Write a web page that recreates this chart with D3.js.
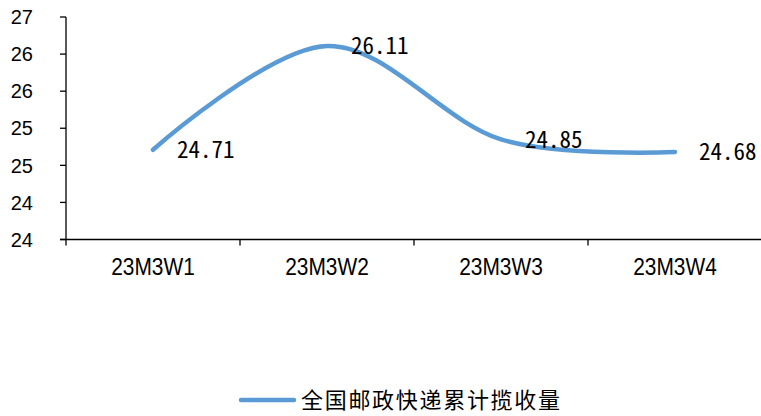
<!DOCTYPE html>
<html lang="zh">
<head>
<meta charset="UTF-8">
<title>全国邮政快递累计揽收量</title>
<script src="https://cdn.jsdelivr.net/npm/d3@7/dist/d3.min.js"></script>
<style>
	body { margin: 0; background: #fff; }
	.ytick text { font-family: "Liberation Sans", Arial, sans-serif; font-size: 20px; fill: #000; }
	.xtick text { font-family: "Liberation Sans Narrow", "Liberation Sans", sans-serif; font-size: 22px; fill: #000; }
	.dlabel { font-family: "Noto Sans Mono CJK SC", "DejaVu Sans Mono", monospace; font-size: 23px; fill: #000; }
	.legend text { font-family: "Noto Sans CJK SC", sans-serif; font-size: 22px; letter-spacing: 1.7px; fill: #000; }
</style>
</head>
<body>
<svg width="761" height="416"></svg>
<script>
	// chart data
	var categories = ["23M3W1", "23M3W2", "23M3W3", "23M3W4"];
	var values = [24.71, 26.11, 24.85, 24.68];
	var seriesName = "全国邮政快递累计揽收量";
	var yTicks = [23.5, 24, 24.5, 25, 25.5, 26, 26.5];

	var svg = d3.select("svg");
	var lineColor = "#5b9bd5";

	var x = d3.scaleBand()
		.domain(categories)
		.range([66, 762])
		.padding(0);

	var y = d3.scaleLinear()
		.domain([23.5, 26.5])
		.range([239.5, 17]);

	// y axis
	var yAxis = svg.append("g");
	yAxis.append("line")
		.attr("x1", 66).attr("x2", 66)
		.attr("y1", y(26.5)).attr("y2", y(23.5))
		.attr("stroke", "#000").attr("stroke-width", 1.3);
	var yt = yAxis.selectAll(".ytick")
		.data(yTicks)
		.enter().append("g")
		.attr("class", "ytick")
		.attr("transform", d => "translate(0," + y(d) + ")");
	yt.append("line")
		.attr("x1", 60).attr("x2", 66)
		.attr("stroke", "#000").attr("stroke-width", 1.3);
	yt.append("text")
		.attr("x", 33)
		.attr("dy", "0.36em")
		.attr("text-anchor", "end")
		.text(d => Math.round(d));

	// x axis
	var xAxis = svg.append("g");
	xAxis.append("line")
		.attr("x1", 60).attr("x2", 762)
		.attr("y1", y(23.5)).attr("y2", y(23.5))
		.attr("stroke", "#000").attr("stroke-width", 1.3);
	xAxis.selectAll(".xbound")
		.data(categories)
		.enter().append("line")
		.attr("x1", d => x(d)).attr("x2", d => x(d))
		.attr("y1", y(23.5)).attr("y2", y(23.5) + 6)
		.attr("stroke", "#000").attr("stroke-width", 1.3);
	var xt = xAxis.selectAll(".xtick")
		.data(categories)
		.enter().append("g")
		.attr("class", "xtick")
		.attr("transform", d => "translate(" + (x(d) + x.bandwidth() / 2) + ",275)");
	xt.append("text")
		.attr("text-anchor", "middle")
		.attr("transform", "scale(0.95,1.12)")
		.text(d => d);

	// smoothed line
	var pts = categories.map((c, i) => ({ c: c, v: values[i] }));
	var line = d3.line()
		.x(d => x(d.c) + x.bandwidth() / 2)
		.y(d => y(d.v))
		.curve(d3.curveCardinal.tension(0));

	svg.append("path")
		.attr("d", line(pts))
		.attr("fill", "none")
		.attr("stroke", lineColor)
		.attr("stroke-width", 4.5)
		.attr("stroke-linecap", "round");

	// data labels (right of point)
	svg.selectAll(".dlabel")
		.data(pts)
		.enter().append("text")
		.attr("class", "dlabel")
		.attr("x", d => x(d.c) + x.bandwidth() / 2 + 24)
		.attr("y", d => y(d.v))
		.attr("dy", "0.36em")
		.text(d => d.v.toFixed(2));

	// legend
	var legend = svg.append("g").attr("class", "legend");
	legend.append("line")
		.attr("x1", 241).attr("x2", 294)
		.attr("y1", 400).attr("y2", 400)
		.attr("stroke", lineColor)
		.attr("stroke-width", 4.5)
		.attr("stroke-linecap", "round");
	legend.append("text")
		.attr("x", 301)
		.attr("y", 400)
		.attr("dy", "0.36em")
		.text(seriesName);
</script>
</body>
</html>
